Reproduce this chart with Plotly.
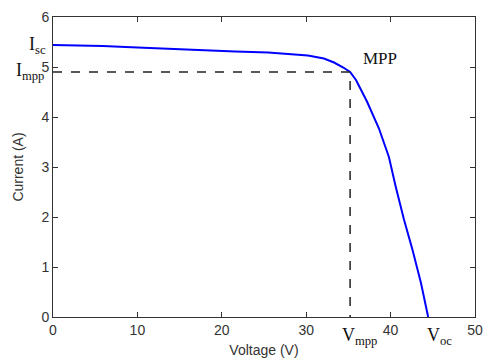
import plotly.graph_objects as go

voltage = [0, 5.9, 10, 13.9, 17.8, 21.6, 25.5, 27.8, 30.2, 32.1, 33.3, 34.4, 35.2,
           35.9, 37.2, 38.6, 39.8, 40.6, 41.6, 42.6, 43.6, 44.45]
current = [5.44, 5.42, 5.39, 5.36, 5.33, 5.31, 5.29, 5.26, 5.23, 5.17, 5.09, 4.99, 4.90,
           4.74, 4.31, 3.78, 3.2, 2.61, 1.94, 1.34, 0.68, 0]
v_mpp, i_mpp = 35.2, 4.9
i_sc, v_oc = 5.44, 44.45
x_ticks = [0, 10, 20, 30, 40, 50]
y_ticks = [0, 1, 2, 3, 4, 5, 6]

fig = go.Figure()
fig.add_trace(go.Scatter(x=voltage, y=current, mode="lines",
                         line=dict(color="#0000ff", width=2), showlegend=False))
fig.add_trace(go.Scatter(x=[0, v_mpp, v_mpp], y=[i_mpp, i_mpp, 0], mode="lines",
                         line=dict(color="#222222", width=1.5, dash="dash"), showlegend=False))

serif = dict(family="Liberation Serif, Times New Roman, serif", size=18, color="#111111")
fig.add_annotation(x=0, y=i_sc, xref="x", yref="y", text="I<sub>sc</sub>", showarrow=False,
                   xanchor="right", yanchor="middle", xshift=-5, yshift=0, font=serif)
fig.add_annotation(x=0, y=i_mpp, xref="x", yref="y", text="I<sub>mpp</sub>", showarrow=False,
                   xanchor="right", yanchor="middle", xshift=-7, yshift=1, font=serif)
fig.add_annotation(x=v_mpp, y=i_mpp, xref="x", yref="y", text="MPP", showarrow=False,
                   xanchor="left", yanchor="bottom", xshift=11, yshift=2,
                   font=dict(family=serif["family"], size=17, color="#111111"))
fig.add_annotation(x=v_mpp, y=0, xref="x", yref="y", text="V<sub>mpp</sub>", showarrow=False,
                   xanchor="left", yanchor="top", xshift=-10, yshift=-6, font=serif)
fig.add_annotation(x=v_oc, y=0, xref="x", yref="y", text="V<sub>oc</sub>", showarrow=False,
                   xanchor="left", yanchor="top", xshift=-3, yshift=-6, font=serif)

sans = "Liberation Sans, Arial, sans-serif"
axis_common = dict(showgrid=False, zeroline=False, showline=True, linecolor="#333333",
                   linewidth=1, mirror="ticks", ticks="inside", ticklen=5, tickcolor="#333333",
                   automargin=False, ticklabeloverflow="allow",
                   tickfont=dict(family=sans, size=14, color="#333333"))
fig.update_xaxes(range=[0, 50], tickvals=x_ticks, title=dict(text="Voltage (V)", standoff=8,
                 font=dict(family=sans, size=14, color="#333333")),
                 **axis_common)
fig.update_yaxes(range=[0, 6], tickvals=y_ticks, title=dict(text="Current (A)", standoff=14,
                 font=dict(family=sans, size=14, color="#333333")),
                 **axis_common)
fig.update_layout(width=485, height=362, margin=dict(l=53, r=10, t=17, b=45),
                  plot_bgcolor="white", paper_bgcolor="white")
fig.write_html("out.html", config={"displayModeBar": False},
               post_script="document.body.style.margin='0';document.body.style.overflow='hidden';")
